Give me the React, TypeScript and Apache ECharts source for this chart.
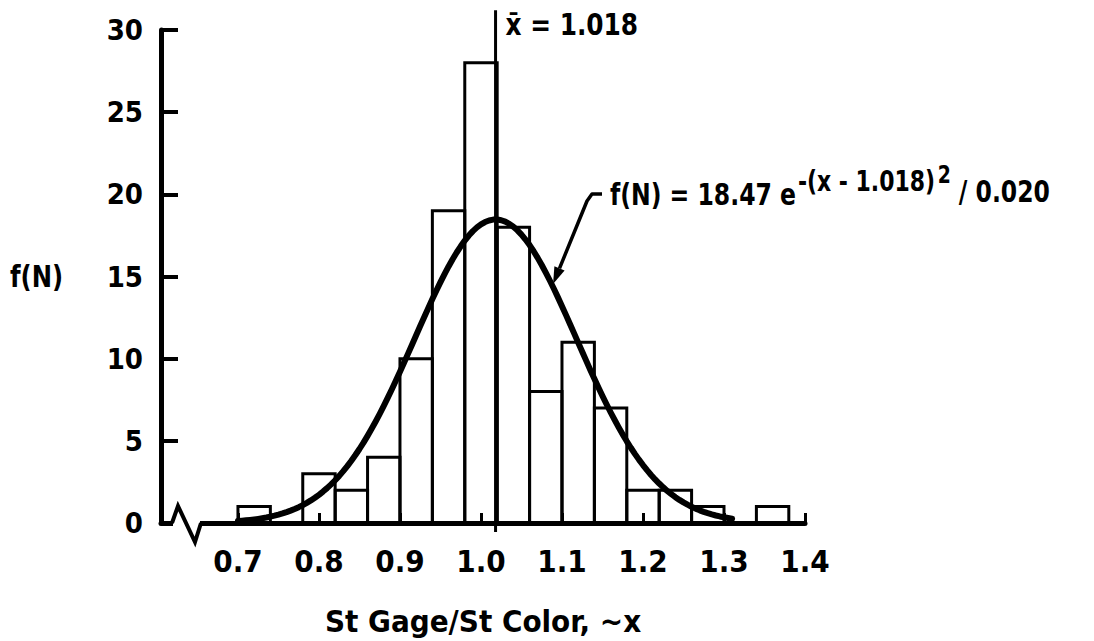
import React, { useEffect, useRef } from "react";
import * as echarts from "echarts";

// Histogram bins (left edge of each 0.04-wide class) and their counts
const binStarts = [0.70, 0.74, 0.78, 0.82, 0.86, 0.90, 0.94, 0.98, 1.02, 1.06, 1.10, 1.14, 1.18, 1.22, 1.26, 1.30, 1.34];
const binCounts = [1, 0, 3, 2, 4, 10, 19, 28, 18, 8, 11, 7, 2, 2, 1, 0, 1];
const BIN_WIDTH = 0.04;

// Axis tick positions
const xTickValues = [0.7, 0.8, 0.9, 1.0, 1.1, 1.2, 1.3, 1.4];
const yTickValues = [0, 5, 10, 15, 20, 25, 30];

// Fitted normal curve, as printed on the chart: f(N) = 18.47 e^-(x - 1.018)^2 / 0.020
const MEAN = 1.018;
const AMPLITUDE = 18.47;
const DIVISOR = 0.020;
const CURVE_START = 0.70;
const CURVE_END = 1.31;

const FONT = "'DejaVu Sans Condensed', 'Liberation Sans Narrow', sans-serif";

function fitted(x: number): number {
  return AMPLITUDE * Math.exp(-((x - MEAN) ** 2) / DIVISOR);
}

function measure(text: string, size: number): number {
  const t = new echarts.graphic.Text({ style: { text, font: `bold ${size}px ${FONT}` } });
  return t.getBoundingRect().width;
}

export default function App() {
  const ref = useRef<HTMLDivElement>(null);

  useEffect(() => {
    const el = ref.current;
    if (!el) return;
    const chart = echarts.init(el, undefined, { renderer: "svg" });

    const histData = binStarts
      .map((s, i) => [s, +(s + BIN_WIDTH).toFixed(2), binCounts[i]])
      .filter((d) => d[2] > 0);

    const curveData: number[][] = [];
    const steps = Math.round((CURVE_END - CURVE_START) / 0.005);
    for (let i = 0; i <= steps; i++) {
      const x = CURVE_START + i * 0.005;
      curveData.push([x, fitted(x)]);
    }

    const labelStyle = {
      color: "#000",
      fontFamily: FONT,
      fontWeight: "bold" as const,
    };

    chart.setOption({
      animation: false,
      backgroundColor: "#fff",
      grid: { left: 161, right: 289, top: 30, bottom: 118 },
      xAxis: {
        type: "value",
        min: 0.605,
        max: 1.4,
        axisLine: { show: true, lineStyle: { color: "#000", width: 5 } },
        axisTick: {
          show: true,
          inside: true,
          length: 10,
          customValues: xTickValues,
          lineStyle: { color: "#000", width: 3 },
        },
        axisLabel: {
          ...labelStyle,
          customValues: xTickValues,
          formatter: (v: number) => v.toFixed(1),
          fontSize: 31,
          margin: 22,
        },
        splitLine: { show: false },
        name: "St Gage/St Color, ~x",
        nameLocation: "middle",
        nameGap: 82,
        nameTextStyle: { ...labelStyle, fontSize: 31 },
      },
      yAxis: {
        type: "value",
        min: 0,
        max: 30,
        interval: 5,
        axisLine: { show: true, lineStyle: { color: "#000", width: 5 } },
        axisTick: {
          show: true,
          inside: true,
          length: 17,
          customValues: yTickValues,
          lineStyle: { color: "#000", width: 4 },
        },
        axisLabel: { ...labelStyle, fontSize: 29, margin: 18 },
        splitLine: { show: false },
      },
      series: [
        {
          type: "custom",
          name: "counts",
          data: histData,
          encode: { x: [0, 1], y: 2 },
          renderItem: (_params: any, api: any) => {
            const p0 = api.coord([api.value(0), 0]);
            const p1 = api.coord([api.value(1), api.value(2)]);
            return {
              type: "rect",
              shape: { x: p0[0], y: p1[1], width: p1[0] - p0[0], height: p0[1] - p1[1] },
              style: { fill: "none", stroke: "#000", lineWidth: 3 },
            };
          },
          z: 2,
        },
        {
          type: "line",
          name: "mean",
          data: [[MEAN, -0.55], [MEAN, 31.2]],
          clip: false,
          symbol: "none",
          lineStyle: { color: "#000", width: 3 },
          z: 3,
        },
        {
          type: "line",
          name: "fit",
          data: curveData,
          symbol: "none",
          smooth: false,
          lineStyle: { color: "#000", width: 6, cap: "round", join: "round" },
          z: 4,
        },
      ],
    });

    // Annotations placed from the axes' own scales
    const toPx = (x: number, y: number) => chart.convertToPixel({ gridIndex: 0 }, [x, y]) as number[];
    const origin = toPx(0.605, 0);
    const X0 = origin[0];
    const Y0 = origin[1];

    const graphics: any[] = [];

    // axis break on the x axis
    graphics.push({
      type: "rect",
      shape: { x: X0 + 12, y: Y0 - 5, width: 27, height: 10 },
      style: { fill: "#fff" },
      z: 10,
    });
    graphics.push({
      type: "polyline",
      shape: { points: [[X0 + 11, Y0], [X0 + 17, Y0 - 17], [X0 + 34, Y0 + 19], [X0 + 40, Y0]] },
      style: { stroke: "#000", lineWidth: 4, fill: "none", lineJoin: "miter" },
      z: 11,
    });

    // y axis title
    graphics.push({
      type: "text",
      x: 10,
      y: 277,
      scaleX: 0.9,
      style: { text: "f(N)", font: `bold 30px ${FONT}`, fill: "#000", textAlign: "left", textVerticalAlign: "middle" },
      z: 10,
    });

    // mean label
    const meanPx = toPx(MEAN, 0)[0];
    graphics.push({
      type: "text",
      x: meanPx + 10,
      y: 25,
      scaleX: 0.92,
      style: { text: "x̄ = 1.018", font: `bold 30px ${FONT}`, fill: "#000", textAlign: "left", textVerticalAlign: "middle" },
      z: 10,
    });

    // formula with superscripted exponent, condensed to fit between 610 and 1050
    const fx = 610;
    const fy = 195;
    const parts = [
      { text: "f(N) = 18.47 e", size: 30, dy: 0, gap: 2 },
      { text: "-(x - 1.018)", size: 28, dy: -14, gap: 3 },
      { text: "2", size: 24, dy: -21, gap: 9 },
      { text: "/ 0.020", size: 30, dy: -3, gap: 0 },
    ];
    const widths = parts.map((p) => measure(p.text, p.size));
    const total = parts.reduce((acc, p, i) => acc + widths[i] + p.gap, 0);
    const sx = Math.min(1, 440 / total);
    let cursor = fx;
    parts.forEach((p, i) => {
      graphics.push({
        type: "text",
        x: cursor,
        y: fy + p.dy,
        scaleX: sx,
        style: { text: p.text, font: `bold ${p.size}px ${FONT}`, fill: "#000", textAlign: "left", textVerticalAlign: "middle" },
        z: 10,
      });
      cursor += (widths[i] + p.gap) * sx;
    });

    // leader from the formula to the curve
    const tipX = 1.089;
    const tip = toPx(tipX, fitted(tipX));
    tip[1] -= 3;
    const bend = [fx - 23, fy + 6];
    const dx = tip[0] - bend[0];
    const dy = tip[1] - bend[1];
    const len = Math.hypot(dx, dy);
    const ux = dx / len;
    const uy = dy / len;
    const headLen = 17;
    const base = [tip[0] - ux * headLen, tip[1] - uy * headLen];
    const nx = -uy;
    const ny = ux;
    graphics.push({
      type: "polyline",
      shape: { points: [[fx - 8, fy - 1], [fx - 18, fy - 1], bend, base] },
      style: { stroke: "#000", lineWidth: 3.5, fill: "none", lineJoin: "round" },
      z: 10,
    });
    graphics.push({
      type: "polygon",
      shape: { points: [tip, [base[0] + nx * 5.5, base[1] + ny * 5.5], [base[0] - nx * 5.5, base[1] - ny * 5.5]] },
      style: { fill: "#000" },
      z: 10,
    });

    chart.setOption({ graphic: graphics });

    return () => {
      chart.dispose();
    };
  }, []);

  return (
    <div
      ref={ref}
      style={{ position: "fixed", left: 0, top: 0, width: 1094, height: 641, background: "#fff" }}
    />
  );
}
